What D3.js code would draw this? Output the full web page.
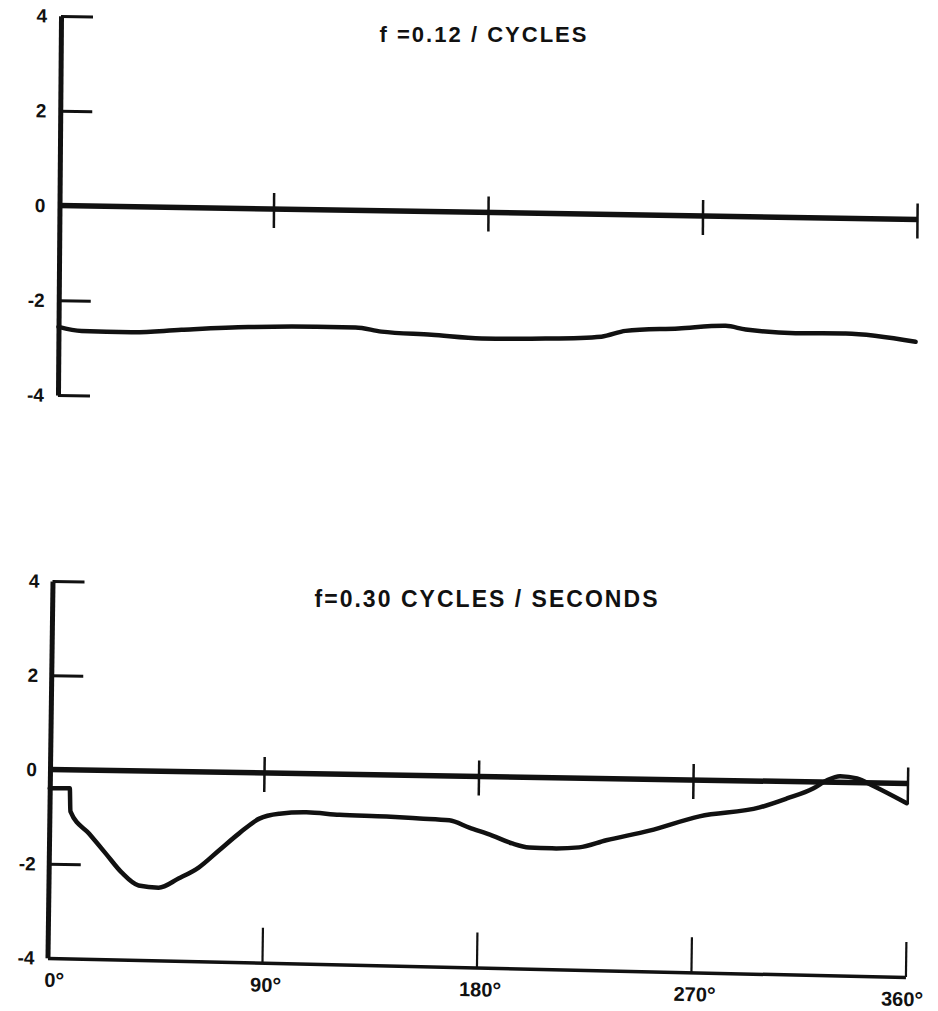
<!DOCTYPE html>
<html>
<head>
<meta charset="utf-8">
<script src="https://cdn.jsdelivr.net/npm/d3@7"></script>
<style>
  html, body { margin: 0; padding: 0; background: #fff; }
  svg { display: block; }
  text { font-family: "Liberation Sans", Arial, sans-serif; font-weight: bold; fill: #111; }
</style>
</head>
<body>
<svg id="chart" width="938" height="1011"></svg>
<script>
// Phase angle ticks (degrees) and value ticks
const phaseTicks = [90, 180, 270, 360];
const phaseLabelValues = [0, 90, 180, 270, 360];
const valueTicks = [4, 2, -2, -4];
const valueLabels = [4, 2, 0, -2, -4];

// f = 0.12 response
const lowPhase = [0, 9.7, 30.6, 51.6, 79.7, 107.8, 124.6, 135.5, 156.5, 177.5, 204.3, 227.8, 237.9, 260.1, 279.9, 288.3, 309.2, 330.2, 359.6];
const lowValue = [-2.56, -2.64, -2.65, -2.58, -2.50, -2.47, -2.47, -2.55, -2.60, -2.66, -2.64, -2.58, -2.45, -2.38, -2.31, -2.38, -2.44, -2.43, -2.58];

// f = 0.30 response
const highPhase = [0, 8.4, 8.8, 16.8, 23.8, 30.6, 37.8, 46.2, 54.5, 62.9, 71.3, 79.7, 88.1, 96.5, 107.8, 121.7, 141.4, 155.3, 167.8, 176.2, 185.9, 194.3, 201.4, 211, 222.4, 233.7, 251.8, 272.7, 297.9, 309.3, 320.2, 326, 331.5, 338.6, 345.3, 359.6];
const highValue = [-0.40, -0.39, -0.88, -1.35, -1.76, -2.16, -2.43, -2.47, -2.27, -2.03, -1.66, -1.29, -0.97, -0.86, -0.82, -0.86, -0.88, -0.91, -0.94, -1.09, -1.25, -1.41, -1.49, -1.50, -1.47, -1.31, -1.09, -0.77, -0.56, -0.36, -0.14, 0.04, 0.13, 0.09, -0.06, -0.42];

const svg = d3.select("#chart");
const INK = "#111";

// One hand-lettered panel: axes drawn in a slightly sheared frame
function drawPanel(cfg) {
  const x = d3.scaleLinear().domain([0, 360]).range([0, cfg.width]);
  const y = d3.scaleLinear().domain([-4, 4]).range([4 * cfg.unit, -4 * cfg.unit]);

  const outer = svg.append("g").attr("transform", `translate(${cfg.x0},${cfg.yZero})`);
  const g = outer.append("g").attr("transform", `matrix(1,${cfg.slope},${cfg.lean},1,0,0)`);

  // vertical value axis with short ticks to the right
  const yAxis = g.append("g").call(
    d3.axisRight(y).tickValues(cfg.valueTicks).tickSize(32).tickSizeOuter(0).tickFormat("")
  );
  yAxis.select(".domain").attr("stroke", INK).attr("stroke-width", 5);
  yAxis.selectAll(".tick line").attr("stroke", INK).attr("stroke-width", 3);

  // value labels
  g.append("g").selectAll("text")
    .data(valueLabels)
    .join("text")
    .attr("x", cfg.labelX)
    .attr("y", d => y(d))
    .attr("dy", "0.36em")
    .attr("text-anchor", "end")
    .attr("font-size", 19)
    .text(d => d);

  // zero reference line with phase ticks
  g.append("line")
    .attr("x1", 0).attr("x2", x(360))
    .attr("y1", y(0)).attr("y2", y(0))
    .attr("stroke", INK).attr("stroke-width", 5.5);
  g.append("g").selectAll("line")
    .data(phaseTicks)
    .join("line")
    .attr("x1", d => x(d)).attr("x2", d => x(d))
    .attr("y1", y(0) - 16).attr("y2", y(0) + 19)
    .attr("stroke", INK).attr("stroke-width", 2.5);

  // response curve
  const pts = cfg.phase.map((p, i) => [p, cfg.value[i]]);
  g.append("path")
    .datum(pts)
    .attr("fill", "none")
    .attr("stroke", INK)
    .attr("stroke-width", cfg.curveWidth)
    .attr("stroke-linejoin", "round")
    .attr("stroke-linecap", "round")
    .attr("d", d3.line().x(d => x(d[0])).y(d => y(d[1])).curve(d3.curveMonotoneX));

  // phase axis along the bottom
  if (cfg.phaseAxis) {
    const ax = g.append("g")
      .attr("transform", `translate(0,${y(-4)})`)
      .append("g")
      .attr("transform", `matrix(1,${cfg.axisExtraSlope},0,1,0,0)`);
    const axis = ax.append("g").call(
      d3.axisTop(x).tickValues(phaseTicks).tickSize(35).tickSizeOuter(0).tickFormat("")
    );
    axis.select(".domain").attr("stroke", INK).attr("stroke-width", 3.5);
    axis.selectAll(".tick line").attr("stroke", INK).attr("stroke-width", 2.2);

    const lbl = ax.selectAll("text.phase")
      .data(phaseLabelValues)
      .join("text")
      .attr("class", "phase")
      .attr("x", d => x(d) + (d === 0 ? 7 : d === 360 ? -3 : 4))
      .attr("y", 29)
      .attr("text-anchor", "middle")
      .attr("font-size", 20);
    lbl.append("tspan").text(d => d);
    lbl.append("tspan").attr("font-size", 22).attr("dy", 1).text("°");
  }

  // heading
  svg.append("text")
    .attr("x", cfg.titleX)
    .attr("y", cfg.titleY)
    .attr("text-anchor", "middle")
    .attr("font-size", cfg.titleSize)
    .attr("textLength", cfg.titleWidth)
    .attr("lengthAdjust", "spacing")
    .text(cfg.title);
}

drawPanel({
  x0: 59.5, yZero: 205.5, unit: 47.4, width: 858,
  slope: 0.0163, lean: -0.008,
  valueTicks: valueTicks, labelX: -14,
  phase: lowPhase, value: lowValue, curveWidth: 4.5,
  phaseAxis: false,
  title: "f =0.12 / CYCLES", titleX: 483, titleY: 42, titleSize: 22, titleWidth: 207
});

drawPanel({
  x0: 50, yZero: 769.5, unit: 47.1, width: 858,
  slope: 0.0163, lean: -0.0133,
  valueTicks: [4, 2, -2], labelX: -13,
  phase: highPhase, value: highValue, curveWidth: 4.5,
  phaseAxis: true, axisExtraSlope: 0.006,
  title: "f=0.30 CYCLES / SECONDS", titleX: 486, titleY: 607, titleSize: 23, titleWidth: 343
});
</script>
</body>
</html>
